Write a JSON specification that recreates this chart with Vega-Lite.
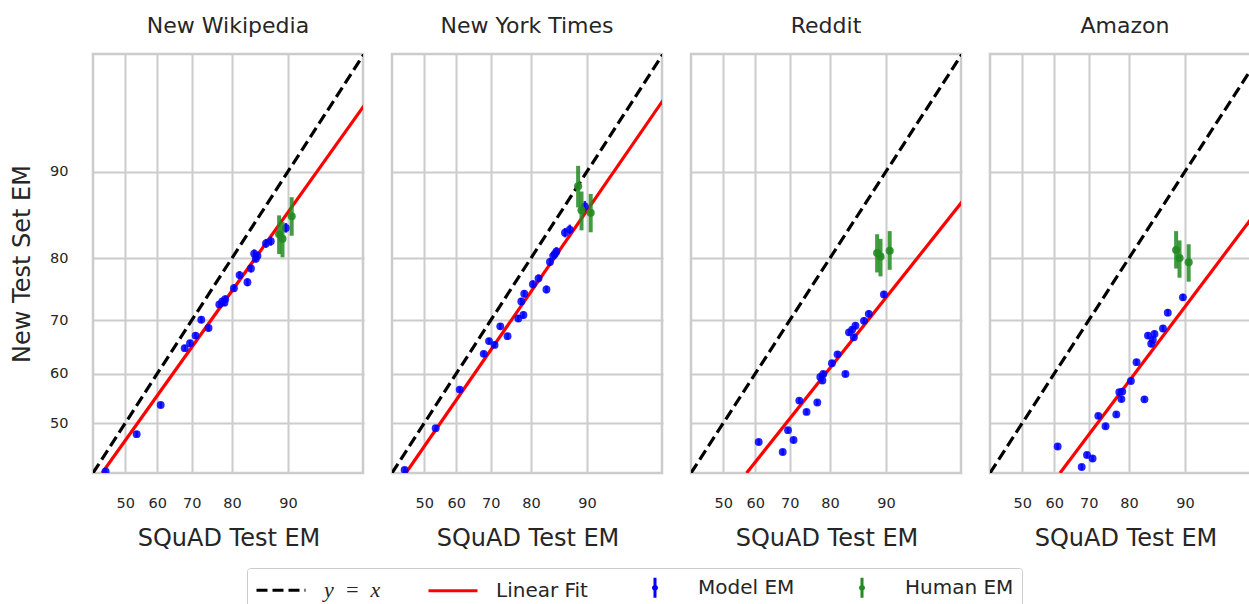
{
  "$schema": "https://vega.github.io/schema/vega-lite/v6.json",
  "padding": {"left": 8, "top": 13, "right": 0, "bottom": 0},
  "datasets": {
    "d": [
      {"panel": "NW", "series": "y = x", "squad": 40, "em": 40},
      {"panel": "NW", "series": "y = x", "squad": 97, "em": 97},
      {"panel": "NW", "series": "Linear Fit", "squad": 42.8, "em": 40},
      {"panel": "NW", "series": "Linear Fit", "squad": 97, "em": 94.7},
      {"panel": "NW", "series": "Model EM", "squad": 43.9, "em": 40.3, "lo": 39.7, "hi": 40.9},
      {"panel": "NW", "series": "Model EM", "squad": 53.6, "em": 47.8, "lo": 47.2, "hi": 48.4},
      {"panel": "NW", "series": "Model EM", "squad": 61.0, "em": 53.7, "lo": 53.1, "hi": 54.3},
      {"panel": "NW", "series": "Model EM", "squad": 68.0, "em": 64.9, "lo": 64.3, "hi": 65.5},
      {"panel": "NW", "series": "Model EM", "squad": 69.5, "em": 65.8, "lo": 65.2, "hi": 66.4},
      {"panel": "NW", "series": "Model EM", "squad": 71.0, "em": 67.2, "lo": 66.6, "hi": 67.8},
      {"panel": "NW", "series": "Model EM", "squad": 72.5, "em": 70.1, "lo": 69.5, "hi": 70.7},
      {"panel": "NW", "series": "Model EM", "squad": 74.4, "em": 68.6, "lo": 68.0, "hi": 69.2},
      {"panel": "NW", "series": "Model EM", "squad": 77.0, "em": 72.7, "lo": 72.1, "hi": 73.3},
      {"panel": "NW", "series": "Model EM", "squad": 77.7, "em": 73.2, "lo": 72.6, "hi": 73.8},
      {"panel": "NW", "series": "Model EM", "squad": 78.2, "em": 73.0, "lo": 72.4, "hi": 73.6},
      {"panel": "NW", "series": "Model EM", "squad": 78.4, "em": 73.6, "lo": 73.0, "hi": 74.2},
      {"panel": "NW", "series": "Model EM", "squad": 80.4, "em": 75.4, "lo": 74.8, "hi": 76.0},
      {"panel": "NW", "series": "Model EM", "squad": 81.6, "em": 77.4, "lo": 76.8, "hi": 78.0},
      {"panel": "NW", "series": "Model EM", "squad": 83.2, "em": 76.3, "lo": 75.7, "hi": 76.9},
      {"panel": "NW", "series": "Model EM", "squad": 83.9, "em": 78.4, "lo": 77.8, "hi": 79.0},
      {"panel": "NW", "series": "Model EM", "squad": 84.5, "em": 80.6, "lo": 80.0, "hi": 81.2},
      {"panel": "NW", "series": "Model EM", "squad": 84.8, "em": 79.9, "lo": 79.3, "hi": 80.5},
      {"panel": "NW", "series": "Model EM", "squad": 85.1, "em": 80.3, "lo": 79.7, "hi": 80.9},
      {"panel": "NW", "series": "Model EM", "squad": 86.6, "em": 82.0, "lo": 81.4, "hi": 82.6},
      {"panel": "NW", "series": "Model EM", "squad": 87.4, "em": 82.3, "lo": 81.7, "hi": 82.9},
      {"panel": "NW", "series": "Model EM", "squad": 89.7, "em": 84.0, "lo": 83.4, "hi": 84.6},
      {"panel": "NW", "series": "Human EM", "squad": 88.7, "em": 83.2, "lo": 80.55, "hi": 85.5},
      {"panel": "NW", "series": "Human EM", "squad": 89.2, "em": 82.6, "lo": 80.1, "hi": 84.7},
      {"panel": "NW", "series": "Human EM", "squad": 90.5, "em": 85.4, "lo": 83.0, "hi": 87.5},

      {"panel": "NYT", "series": "y = x", "squad": 40, "em": 40},
      {"panel": "NYT", "series": "y = x", "squad": 97, "em": 97},
      {"panel": "NYT", "series": "Linear Fit", "squad": 44.3, "em": 40},
      {"panel": "NYT", "series": "Linear Fit", "squad": 97, "em": 95.0},
      {"panel": "NYT", "series": "Model EM", "squad": 43.9, "em": 40.6, "lo": 40.0, "hi": 41.2},
      {"panel": "NYT", "series": "Model EM", "squad": 53.6, "em": 49.0, "lo": 48.4, "hi": 49.6},
      {"panel": "NYT", "series": "Model EM", "squad": 61.0, "em": 56.8, "lo": 56.2, "hi": 57.4},
      {"panel": "NYT", "series": "Model EM", "squad": 68.0, "em": 63.8, "lo": 63.2, "hi": 64.4},
      {"panel": "NYT", "series": "Model EM", "squad": 69.5, "em": 66.2, "lo": 65.6, "hi": 66.8},
      {"panel": "NYT", "series": "Model EM", "squad": 71.0, "em": 65.5, "lo": 64.9, "hi": 66.1},
      {"panel": "NYT", "series": "Model EM", "squad": 72.5, "em": 68.9, "lo": 68.3, "hi": 69.5},
      {"panel": "NYT", "series": "Model EM", "squad": 74.4, "em": 67.1, "lo": 66.5, "hi": 67.7},
      {"panel": "NYT", "series": "Model EM", "squad": 77.0, "em": 70.3, "lo": 69.7, "hi": 70.9},
      {"panel": "NYT", "series": "Model EM", "squad": 77.7, "em": 73.2, "lo": 72.6, "hi": 73.8},
      {"panel": "NYT", "series": "Model EM", "squad": 78.2, "em": 70.9, "lo": 70.3, "hi": 71.5},
      {"panel": "NYT", "series": "Model EM", "squad": 78.4, "em": 74.5, "lo": 73.9, "hi": 75.1},
      {"panel": "NYT", "series": "Model EM", "squad": 80.4, "em": 76.0, "lo": 75.4, "hi": 76.6},
      {"panel": "NYT", "series": "Model EM", "squad": 81.6, "em": 76.9, "lo": 76.3, "hi": 77.5},
      {"panel": "NYT", "series": "Model EM", "squad": 83.2, "em": 75.2, "lo": 74.6, "hi": 75.8},
      {"panel": "NYT", "series": "Model EM", "squad": 83.9, "em": 79.4, "lo": 78.8, "hi": 80.0},
      {"panel": "NYT", "series": "Model EM", "squad": 84.5, "em": 80.3, "lo": 79.7, "hi": 80.9},
      {"panel": "NYT", "series": "Model EM", "squad": 84.8, "em": 80.55, "lo": 79.95, "hi": 81.15},
      {"panel": "NYT", "series": "Model EM", "squad": 85.1, "em": 80.9, "lo": 80.3, "hi": 81.5},
      {"panel": "NYT", "series": "Model EM", "squad": 86.6, "em": 83.4, "lo": 82.8, "hi": 84.0},
      {"panel": "NYT", "series": "Model EM", "squad": 87.4, "em": 83.8, "lo": 83.2, "hi": 84.4},
      {"panel": "NYT", "series": "Model EM", "squad": 89.7, "em": 86.5, "lo": 85.9, "hi": 87.1},
      {"panel": "NYT", "series": "Human EM", "squad": 88.7, "em": 88.6, "lo": 86.4, "hi": 90.5},
      {"panel": "NYT", "series": "Human EM", "squad": 89.2, "em": 86.1, "lo": 83.7, "hi": 88.1},
      {"panel": "NYT", "series": "Human EM", "squad": 90.5, "em": 85.8, "lo": 83.45, "hi": 87.85},

      {"panel": "RD", "series": "y = x", "squad": 40, "em": 40},
      {"panel": "RD", "series": "y = x", "squad": 97, "em": 97},
      {"panel": "RD", "series": "Linear Fit", "squad": 57.3, "em": 40},
      {"panel": "RD", "series": "Linear Fit", "squad": 97, "em": 87.0},
      {"panel": "RD", "series": "Model EM", "squad": 61.0, "em": 46.2, "lo": 45.6, "hi": 46.8},
      {"panel": "RD", "series": "Model EM", "squad": 68.0, "em": 44.2, "lo": 43.6, "hi": 44.8},
      {"panel": "RD", "series": "Model EM", "squad": 69.5, "em": 48.6, "lo": 48.0, "hi": 49.2},
      {"panel": "RD", "series": "Model EM", "squad": 71.0, "em": 46.6, "lo": 46.0, "hi": 47.2},
      {"panel": "RD", "series": "Model EM", "squad": 72.5, "em": 54.6, "lo": 54.0, "hi": 55.2},
      {"panel": "RD", "series": "Model EM", "squad": 74.4, "em": 52.3, "lo": 51.7, "hi": 52.9},
      {"panel": "RD", "series": "Model EM", "squad": 77.0, "em": 54.2, "lo": 53.6, "hi": 54.8},
      {"panel": "RD", "series": "Model EM", "squad": 77.7, "em": 59.3, "lo": 58.7, "hi": 59.9},
      {"panel": "RD", "series": "Model EM", "squad": 78.2, "em": 58.6, "lo": 58.0, "hi": 59.2},
      {"panel": "RD", "series": "Model EM", "squad": 78.4, "em": 59.9, "lo": 59.3, "hi": 60.5},
      {"panel": "RD", "series": "Model EM", "squad": 80.4, "em": 62.0, "lo": 61.4, "hi": 62.6},
      {"panel": "RD", "series": "Model EM", "squad": 81.6, "em": 63.7, "lo": 63.1, "hi": 64.3},
      {"panel": "RD", "series": "Model EM", "squad": 83.2, "em": 59.9, "lo": 59.3, "hi": 60.5},
      {"panel": "RD", "series": "Model EM", "squad": 83.9, "em": 67.8, "lo": 67.2, "hi": 68.4},
      {"panel": "RD", "series": "Model EM", "squad": 84.5, "em": 68.3, "lo": 67.7, "hi": 68.9},
      {"panel": "RD", "series": "Model EM", "squad": 84.8, "em": 66.9, "lo": 66.3, "hi": 67.5},
      {"panel": "RD", "series": "Model EM", "squad": 85.1, "em": 69.0, "lo": 68.4, "hi": 69.6},
      {"panel": "RD", "series": "Model EM", "squad": 86.6, "em": 69.9, "lo": 69.3, "hi": 70.5},
      {"panel": "RD", "series": "Model EM", "squad": 87.4, "em": 71.1, "lo": 70.5, "hi": 71.7},
      {"panel": "RD", "series": "Model EM", "squad": 89.7, "em": 74.4, "lo": 73.8, "hi": 75.0},
      {"panel": "RD", "series": "Human EM", "squad": 88.7, "em": 80.7, "lo": 77.8, "hi": 83.2},
      {"panel": "RD", "series": "Human EM", "squad": 89.2, "em": 80.2, "lo": 77.2, "hi": 82.6},
      {"panel": "RD", "series": "Human EM", "squad": 90.5, "em": 81.0, "lo": 78.2, "hi": 83.6},

      {"panel": "AM", "series": "y = x", "squad": 40, "em": 40},
      {"panel": "AM", "series": "y = x", "squad": 97, "em": 97},
      {"panel": "AM", "series": "Linear Fit", "squad": 61.7, "em": 40},
      {"panel": "AM", "series": "Linear Fit", "squad": 97, "em": 86.6},
      {"panel": "AM", "series": "Model EM", "squad": 61.0, "em": 45.3, "lo": 44.7, "hi": 45.9},
      {"panel": "AM", "series": "Model EM", "squad": 68.0, "em": 41.2, "lo": 40.6, "hi": 41.8},
      {"panel": "AM", "series": "Model EM", "squad": 69.5, "em": 43.6, "lo": 43.0, "hi": 44.2},
      {"panel": "AM", "series": "Model EM", "squad": 71.0, "em": 42.9, "lo": 42.3, "hi": 43.5},
      {"panel": "AM", "series": "Model EM", "squad": 72.5, "em": 51.5, "lo": 50.9, "hi": 52.1},
      {"panel": "AM", "series": "Model EM", "squad": 74.4, "em": 49.4, "lo": 48.8, "hi": 50.0},
      {"panel": "AM", "series": "Model EM", "squad": 77.0, "em": 51.8, "lo": 51.2, "hi": 52.4},
      {"panel": "AM", "series": "Model EM", "squad": 77.7, "em": 56.3, "lo": 55.7, "hi": 56.9},
      {"panel": "AM", "series": "Model EM", "squad": 78.2, "em": 54.9, "lo": 54.3, "hi": 55.5},
      {"panel": "AM", "series": "Model EM", "squad": 78.4, "em": 56.4, "lo": 55.8, "hi": 57.0},
      {"panel": "AM", "series": "Model EM", "squad": 80.4, "em": 58.5, "lo": 57.9, "hi": 59.1},
      {"panel": "AM", "series": "Model EM", "squad": 81.6, "em": 62.2, "lo": 61.6, "hi": 62.8},
      {"panel": "AM", "series": "Model EM", "squad": 83.2, "em": 54.85, "lo": 54.25, "hi": 55.45},
      {"panel": "AM", "series": "Model EM", "squad": 83.9, "em": 67.2, "lo": 66.6, "hi": 67.8},
      {"panel": "AM", "series": "Model EM", "squad": 84.5, "em": 65.7, "lo": 65.1, "hi": 66.3},
      {"panel": "AM", "series": "Model EM", "squad": 84.8, "em": 66.4, "lo": 65.8, "hi": 67.0},
      {"panel": "AM", "series": "Model EM", "squad": 85.1, "em": 67.5, "lo": 66.9, "hi": 68.1},
      {"panel": "AM", "series": "Model EM", "squad": 86.6, "em": 68.5, "lo": 67.9, "hi": 69.1},
      {"panel": "AM", "series": "Model EM", "squad": 87.4, "em": 71.3, "lo": 70.7, "hi": 71.9},
      {"panel": "AM", "series": "Model EM", "squad": 89.7, "em": 73.9, "lo": 73.3, "hi": 74.5},
      {"panel": "AM", "series": "Human EM", "squad": 88.7, "em": 81.1, "lo": 78.4, "hi": 83.6},
      {"panel": "AM", "series": "Human EM", "squad": 89.2, "em": 80.0, "lo": 77.0, "hi": 82.4},
      {"panel": "AM", "series": "Human EM", "squad": 90.5, "em": 79.35, "lo": 76.4, "hi": 81.9}
    ]
  },
  "hconcat": [
    {
      "width": 270, "height": 419,
      "title": "New Wikipedia",
      "data": {"name": "d"},
      "transform": [{"filter": "datum.panel === 'NW'"}],
      "encoding": {
        "x": {"field": "squad", "type": "quantitative",
          "scale": {"type": "linear", "nice": false, "zero": false, "domain": [40,45,50,55,60,65,70,75,80,82,84,86,88,90,91,92,93,94,95,96,97], "range": [0,16.2,32.17,48.13,64.34,81.1,98.77,117.83,139.05,148.42,158.47,169.37,181.39,194.93,202.45,210.62,219.6,229.63,241.07,254.51,271.03]},
          "axis": {"values": [50,60,70,80,90], "title": "SQuAD Test EM"}},
        "y": {"field": "em", "type": "quantitative",
          "scale": {"type": "linear", "nice": false, "zero": false, "domain": [40,45,50,55,60,65,70,75,80,82,84,86,88,90,91,92,93,94,95,96,97], "range": [419,393.95,369.27,344.59,319.53,293.62,266.31,236.84,204.02,189.53,174.01,157.16,138.56,117.63,106.01,93.39,79.51,64,46.31,25.53,0]},
          "axis": {"values": [50,60,70,80,90], "title": "New Test Set EM"}},
        "color": {"field": "series", "type": "nominal",
          "scale": {"domain": ["y = x", "Linear Fit", "Model EM", "Human EM"], "range": ["#000000", "#ff0000", "#0000ff", "#228b22"]},
          "legend": {
            "orient": "none", "legendX": 154, "legendY": 514, "direction": "horizontal", "title": null,
            "strokeColor": "#cccccc", "fillColor": "#ffffff", "padding": 8, "cornerRadius": 3,
            "labelFontSize": 20, "labelColor": "#262626", "labelOffset": 31.5, "columnPadding": 41,
            "symbolSize": 400, "symbolOffset": 14.5, "symbolStrokeWidth": 3,
            "values": ["y = x", "Linear Fit", "Model EM", "Human EM"],
            "labelExpr": "datum.value === 'y = x' ? 'y\u2002=\u2002x' : datum.label",
            "encode": {
              "symbols": {"update": {
                "shape": {"signal": "datum.value === 'Model EM' || datum.value === 'Human EM' ? 'M0,-1V1M-0.15,0A0.15,0.15 0 1,0 0.15,0A0.15,0.15 0 1,0 -0.15,0' : 'M-2.45,0H2.45'"},
                "strokeDash": {"signal": "datum.value === 'y = x' ? [11, 5] : []"},
                "stroke": {"signal": "datum.value === 'y = x' ? '#000000' : datum.value === 'Linear Fit' ? '#ff0000' : datum.value === 'Model EM' ? '#0000ff' : '#228b22'"},
                "fill": {"signal": "datum.value === 'y = x' ? '#000000' : datum.value === 'Linear Fit' ? '#ff0000' : datum.value === 'Model EM' ? '#0000ff' : '#228b22'"},
                "strokeWidth": {"value": 3},
                "opacity": {"value": 1}
              }},
              "labels": {"update": {
                "fontStyle": {"signal": "datum.value === 'y = x' ? 'italic' : 'normal'"},
                "font": {"signal": "datum.value === 'y = x' ? 'Liberation Serif' : 'DejaVu Sans'"},
                "fontSize": {"signal": "datum.value === 'y = x' ? 22 : 20"}
              }}
            }
          }}
      },
      "layer": [
        {"transform": [{"filter": "datum.series === 'y = x'"}], "mark": {"type": "line", "strokeDash": [11, 5], "strokeWidth": 3.2, "clip": true}},
        {"transform": [{"filter": "datum.series === 'Linear Fit'"}], "mark": {"type": "line", "strokeWidth": 3.2, "clip": true}},
        {"transform": [{"filter": "datum.series === 'Model EM'"}], "mark": {"type": "rule", "strokeWidth": 2.5, "opacity": 0.85, "clip": true}, "encoding": {"y": {"field": "lo", "type": "quantitative"}, "y2": {"field": "hi"}}},
        {"transform": [{"filter": "datum.series === 'Model EM'"}], "mark": {"type": "circle", "size": 62, "opacity": 0.85, "clip": true}},
        {"transform": [{"filter": "datum.series === 'Human EM'"}], "mark": {"type": "rule", "strokeWidth": 4, "opacity": 0.85, "clip": true}, "encoding": {"y": {"field": "lo", "type": "quantitative"}, "y2": {"field": "hi"}}},
        {"transform": [{"filter": "datum.series === 'Human EM'"}], "mark": {"type": "circle", "size": 66, "opacity": 0.9, "clip": true}}
      ]
    },
    {
      "width": 270, "height": 419,
      "title": "New York Times",
      "data": {"name": "d"},
      "transform": [{"filter": "datum.panel === 'NYT'"}],
      "encoding": {
        "x": {"field": "squad", "type": "quantitative",
          "scale": {"type": "linear", "nice": false, "zero": false, "domain": [40,45,50,55,60,65,70,75,80,82,84,86,88,90,91,92,93,94,95,96,97], "range": [0,16.2,32.17,48.13,64.34,81.1,98.77,117.83,139.05,148.42,158.47,169.37,181.39,194.93,202.45,210.62,219.6,229.63,241.07,254.51,271.03]},
          "axis": {"values": [50,60,70,80,90], "title": "SQuAD Test EM"}},
        "y": {"field": "em", "type": "quantitative",
          "scale": {"type": "linear", "nice": false, "zero": false, "domain": [40,45,50,55,60,65,70,75,80,82,84,86,88,90,91,92,93,94,95,96,97], "range": [419,393.95,369.27,344.59,319.53,293.62,266.31,236.84,204.02,189.53,174.01,157.16,138.56,117.63,106.01,93.39,79.51,64,46.31,25.53,0]},
          "axis": {"values": [50,60,70,80,90], "title": null, "labels": false}},
        "color": {"field": "series", "type": "nominal"}
      },
      "layer": [
        {"transform": [{"filter": "datum.series === 'y = x'"}], "mark": {"type": "line", "strokeDash": [11, 5], "strokeWidth": 3.2, "clip": true}},
        {"transform": [{"filter": "datum.series === 'Linear Fit'"}], "mark": {"type": "line", "strokeWidth": 3.2, "clip": true}},
        {"transform": [{"filter": "datum.series === 'Model EM'"}], "mark": {"type": "rule", "strokeWidth": 2.5, "opacity": 0.85, "clip": true}, "encoding": {"y": {"field": "lo", "type": "quantitative"}, "y2": {"field": "hi"}}},
        {"transform": [{"filter": "datum.series === 'Model EM'"}], "mark": {"type": "circle", "size": 62, "opacity": 0.85, "clip": true}},
        {"transform": [{"filter": "datum.series === 'Human EM'"}], "mark": {"type": "rule", "strokeWidth": 4, "opacity": 0.85, "clip": true}, "encoding": {"y": {"field": "lo", "type": "quantitative"}, "y2": {"field": "hi"}}},
        {"transform": [{"filter": "datum.series === 'Human EM'"}], "mark": {"type": "circle", "size": 66, "opacity": 0.9, "clip": true}}
      ]
    },
    {
      "width": 270, "height": 419,
      "title": "Reddit",
      "data": {"name": "d"},
      "transform": [{"filter": "datum.panel === 'RD'"}],
      "encoding": {
        "x": {"field": "squad", "type": "quantitative",
          "scale": {"type": "linear", "nice": false, "zero": false, "domain": [40,45,50,55,60,65,70,75,80,82,84,86,88,90,91,92,93,94,95,96,97], "range": [0,16.2,32.17,48.13,64.34,81.1,98.77,117.83,139.05,148.42,158.47,169.37,181.39,194.93,202.45,210.62,219.6,229.63,241.07,254.51,271.03]},
          "axis": {"values": [50,60,70,80,90], "title": "SQuAD Test EM"}},
        "y": {"field": "em", "type": "quantitative",
          "scale": {"type": "linear", "nice": false, "zero": false, "domain": [40,45,50,55,60,65,70,75,80,82,84,86,88,90,91,92,93,94,95,96,97], "range": [419,393.95,369.27,344.59,319.53,293.62,266.31,236.84,204.02,189.53,174.01,157.16,138.56,117.63,106.01,93.39,79.51,64,46.31,25.53,0]},
          "axis": {"values": [50,60,70,80,90], "title": null, "labels": false}},
        "color": {"field": "series", "type": "nominal"}
      },
      "layer": [
        {"transform": [{"filter": "datum.series === 'y = x'"}], "mark": {"type": "line", "strokeDash": [11, 5], "strokeWidth": 3.2, "clip": true}},
        {"transform": [{"filter": "datum.series === 'Linear Fit'"}], "mark": {"type": "line", "strokeWidth": 3.2, "clip": true}},
        {"transform": [{"filter": "datum.series === 'Model EM'"}], "mark": {"type": "rule", "strokeWidth": 2.5, "opacity": 0.85, "clip": true}, "encoding": {"y": {"field": "lo", "type": "quantitative"}, "y2": {"field": "hi"}}},
        {"transform": [{"filter": "datum.series === 'Model EM'"}], "mark": {"type": "circle", "size": 62, "opacity": 0.85, "clip": true}},
        {"transform": [{"filter": "datum.series === 'Human EM'"}], "mark": {"type": "rule", "strokeWidth": 4, "opacity": 0.85, "clip": true}, "encoding": {"y": {"field": "lo", "type": "quantitative"}, "y2": {"field": "hi"}}},
        {"transform": [{"filter": "datum.series === 'Human EM'"}], "mark": {"type": "circle", "size": 66, "opacity": 0.9, "clip": true}}
      ]
    },
    {
      "width": 270, "height": 419,
      "title": "Amazon",
      "data": {"name": "d"},
      "transform": [{"filter": "datum.panel === 'AM'"}],
      "encoding": {
        "x": {"field": "squad", "type": "quantitative",
          "scale": {"type": "linear", "nice": false, "zero": false, "domain": [40,45,50,55,60,65,70,75,80,82,84,86,88,90,91,92,93,94,95,96,97], "range": [0,16.2,32.17,48.13,64.34,81.1,98.77,117.83,139.05,148.42,158.47,169.37,181.39,194.93,202.45,210.62,219.6,229.63,241.07,254.51,271.03]},
          "axis": {"values": [50,60,70,80,90], "title": "SQuAD Test EM"}},
        "y": {"field": "em", "type": "quantitative",
          "scale": {"type": "linear", "nice": false, "zero": false, "domain": [40,45,50,55,60,65,70,75,80,82,84,86,88,90,91,92,93,94,95,96,97], "range": [419,393.95,369.27,344.59,319.53,293.62,266.31,236.84,204.02,189.53,174.01,157.16,138.56,117.63,106.01,93.39,79.51,64,46.31,25.53,0]},
          "axis": {"values": [50,60,70,80,90], "title": null, "labels": false}},
        "color": {"field": "series", "type": "nominal"}
      },
      "layer": [
        {"transform": [{"filter": "datum.series === 'y = x'"}], "mark": {"type": "line", "strokeDash": [11, 5], "strokeWidth": 3.2, "clip": true}},
        {"transform": [{"filter": "datum.series === 'Linear Fit'"}], "mark": {"type": "line", "strokeWidth": 3.2, "clip": true}},
        {"transform": [{"filter": "datum.series === 'Model EM'"}], "mark": {"type": "rule", "strokeWidth": 2.5, "opacity": 0.85, "clip": true}, "encoding": {"y": {"field": "lo", "type": "quantitative"}, "y2": {"field": "hi"}}},
        {"transform": [{"filter": "datum.series === 'Model EM'"}], "mark": {"type": "circle", "size": 62, "opacity": 0.85, "clip": true}},
        {"transform": [{"filter": "datum.series === 'Human EM'"}], "mark": {"type": "rule", "strokeWidth": 4, "opacity": 0.85, "clip": true}, "encoding": {"y": {"field": "lo", "type": "quantitative"}, "y2": {"field": "hi"}}},
        {"transform": [{"filter": "datum.series === 'Human EM'"}], "mark": {"type": "circle", "size": 66, "opacity": 0.9, "clip": true}}
      ]
    }
  ],
  "config": {
    "font": "DejaVu Sans",
    "view": {"stroke": "#cccccc", "strokeWidth": 2.5},
    "axis": {"grid": true, "gridColor": "#cccccc", "gridWidth": 2, "ticks": false, "domain": false,
      "labelColor": "#262626", "titleColor": "#262626", "labelFontSize": 14.5, "titleFontSize": 24,
      "titleFontWeight": "normal", "labelAngle": 0},
    "axisX": {"labelPadding": 23.5, "titlePadding": 16.5},
    "axisY": {"labelPadding": 25, "titlePadding": 15.5},
    "title": {"fontSize": 22, "fontWeight": "normal", "color": "#262626", "offset": 16},
    "concat": {"spacing": 24}
  }
}
